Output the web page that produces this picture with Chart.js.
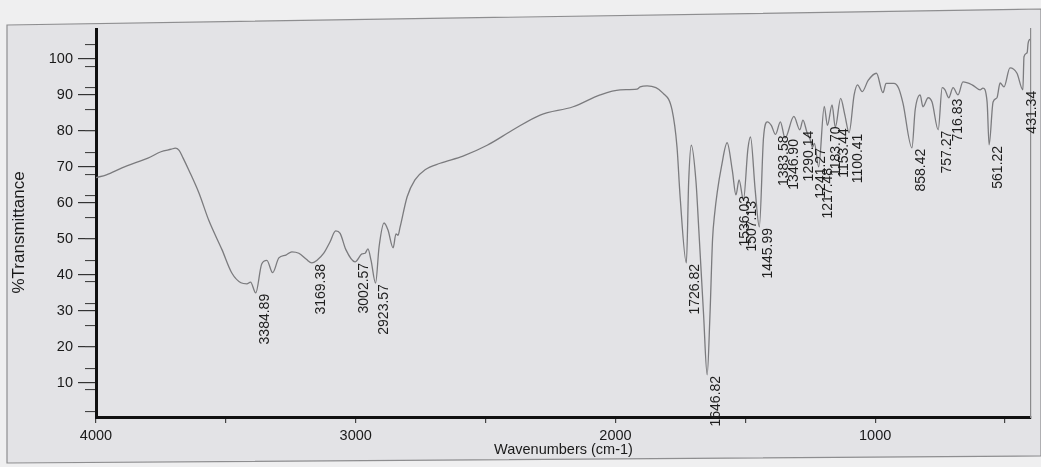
<!DOCTYPE html>
<html>
<head>
<meta charset="utf-8">
<title>FTIR spectrum</title>
<script src="https://cdn.jsdelivr.net/npm/chart.js@4.4.1/dist/chart.umd.min.js"></script>
<style>
  html, body { margin: 0; padding: 0; background: #efeff0; }
  #wrap { position: relative; width: 1041px; height: 467px; overflow: hidden; }
  #paper, #spectrum { position: absolute; left: 0; top: 0; }
</style>
</head>
<body>
<div id="wrap">
  <!-- printed page frame behind the plot -->
  <svg id="paper" width="1041" height="467">
    <polygon points="7,25 1041,9 1041,456 7,463" fill="#e3e3e6" stroke="#8e8e90" stroke-width="1.2"/>
  </svg>
  <canvas id="spectrum" width="1041" height="467"></canvas>
</div>
<script>
// Spectrum trace, high to low wavenumber (cm-1) with %T at each point
const wavenumbers = [
  4000, 3960, 3900, 3850, 3800, 3750, 3710, 3695, 3680, 3665,
  3642, 3604, 3565, 3515, 3477, 3442, 3419, 3405, 3384.89, 3362,
  3342, 3320, 3296, 3269, 3246, 3219, 3190, 3169.38, 3150, 3123,
  3100, 3077, 3060, 3038, 3002.57, 2976, 2964, 2953, 2941, 2923.57,
  2910, 2891, 2876, 2856, 2845, 2837, 2829, 2802, 2772, 2733,
  2675, 2587, 2494, 2394, 2290, 2163, 2059, 1982, 1917, 1905,
  1878, 1817, 1782, 1763, 1751, 1726.82, 1718, 1708, 1690, 1679,
  1661, 1646.82, 1636, 1626, 1618, 1608, 1592, 1570, 1550, 1536.03,
  1524, 1507.13, 1490, 1480, 1462, 1445.99, 1430, 1415, 1400, 1383.58,
  1365, 1346.90, 1313, 1290.14, 1278, 1263, 1250, 1241.27, 1234, 1217.48,
  1196, 1183.70, 1166, 1153.44, 1133, 1117, 1100.41, 1081, 1068, 1050,
  1027, 995, 970, 958, 928, 910, 893, 858.42, 846, 827,
  816, 796, 781, 757.27, 742, 731, 716.83, 700, 681, 662,
  627, 596, 585, 569, 561.22, 546, 531, 519, 504, 481,
  454, 431.34, 427, 415, 411, 405
];
const transmittance = [
  67.0, 67.8, 69.7, 71.1, 72.4, 74.2, 74.9, 75.2, 74.6, 72.5,
  69.0, 62.8, 55.0, 47.0, 40.5, 37.8, 37.5, 38.0, 35.0, 43.0,
  44.0, 40.6, 44.7, 45.5, 46.4, 46.0, 44.3, 43.3, 44.0, 46.0,
  49.0, 52.2, 51.5, 47.0, 43.6, 45.8, 46.0, 47.2, 44.0, 37.7,
  47.8, 54.4, 52.5, 47.5, 51.4, 51.0, 53.3, 61.7, 66.4, 69.2,
  71.0, 73.0, 76.0, 80.3, 84.4, 86.7, 90.0, 91.4, 91.6, 92.2,
  92.5, 90.5, 85.8, 75.5, 61.7, 43.3, 66.0, 76.0, 66.0, 52.5,
  29.4, 12.2, 29.0, 50.0, 57.0, 63.0, 70.0, 76.7, 69.0, 62.2,
  66.4, 60.8, 75.0, 78.3, 63.6, 53.3, 78.0, 82.5, 81.5, 79.0,
  82.5, 78.0, 84.0, 80.3, 83.0, 79.7, 77.5, 75.5, 76.5, 70.0,
  86.8, 81.5, 87.2, 81.0, 89.0, 84.5, 79.5, 90.0, 92.8, 90.9,
  94.0, 96.0, 90.6, 93.2, 93.2, 91.9, 87.7, 75.3, 85.8, 90.0,
  86.7, 89.2, 88.0, 80.3, 92.0, 91.4, 89.2, 92.0, 90.0, 93.6,
  92.8, 91.4, 91.9, 88.0, 76.1, 88.0, 89.2, 93.3, 92.2, 97.5,
  96.0, 91.4, 100.6, 101.7, 104.4, 105.5
];

// Peaks picked by the instrument software (labelled under each dip)
const peakPositions = [
  3384.89, 3169.38, 3002.57, 2923.57, 1726.82, 1646.82, 1536.03, 1507.13,
  1445.99, 1383.58, 1346.90, 1290.14, 1241.27, 1217.48, 1183.70, 1153.44,
  1100.41, 858.42, 757.27, 716.83, 561.22, 431.34
];

// x ticks every 500, only the thousands carry a label
const xTickValues = [4000, 3500, 3000, 2500, 2000, 1500, 1000, 500];
const xTickLabels = [4000, 3000, 2000, 1000];
const yTickLabels = [10, 20, 30, 40, 50, 60, 70, 80, 90, 100];

const X_MIN = 400, X_MAX = 4000;
const Y_MIN = 0.5, Y_MAX = 108.3;

const plainFont = '"Liberation Sans", Arial, sans-serif';

// Draw the peak wavenumbers rotated, hanging below each dip
const peakLabels = {
  id: 'peakLabels',
  afterDraw(chart) {
    const { ctx, scales: { x, y } } = chart;
    ctx.save();
    ctx.font = '14px ' + plainFont;
    ctx.fillStyle = '#1e1e1e';
    ctx.textAlign = 'right';
    ctx.textBaseline = 'middle';
    peakPositions.forEach(w => {
      const i = wavenumbers.indexOf(w);
      if (i < 0) return;
      const px = x.getPixelForValue(w);
      const py = y.getPixelForValue(transmittance[i]);
      ctx.save();
      ctx.translate(px + 9, py + 1);
      ctx.rotate(-Math.PI / 2);
      ctx.fillText(w.toFixed(2), 0, 0);
      ctx.restore();
    });
    ctx.restore();
  }
};

const points = wavenumbers.map((w, i) => ({ x: w, y: transmittance[i] }));

new Chart(document.getElementById('spectrum'), {
  type: 'line',
  data: {
    datasets: [{
      data: points,
      borderColor: '#7b7b7e',
      borderWidth: 1.3,
      pointRadius: 0,
      cubicInterpolationMode: 'monotone',
      fill: false
    }]
  },
  options: {
    responsive: false,
    animation: false,
    events: [],
    layout: { padding: { top: 29, right: 10, bottom: 0, left: 0 } },
    plugins: {
      legend: { display: false },
      tooltip: { enabled: false }
    },
    scales: {
      x: {
        type: 'linear',
        reverse: true,
        min: X_MIN,
        max: X_MAX,
        afterFit: s => { s.height = 50; },
        afterBuildTicks: s => { s.ticks = xTickValues.map(v => ({ value: v })); },
        border: { color: '#111', width: 3 },
        grid: { drawOnChartArea: false, tickLength: 6, color: '#444', lineWidth: 1.2 },
        ticks: {
          autoSkip: false,
          maxRotation: 0,
          padding: 4,
          color: '#1a1a1a',
          font: { family: plainFont, size: 14.5 },
          callback: v => xTickLabels.includes(v) ? String(v) : ''
        },
        title: {
          display: true,
          text: 'Wavenumbers (cm-1)',
          color: '#1a1a1a',
          font: { family: plainFont, size: 14.5 },
          padding: { top: 0, bottom: 8 }
        }
      },
      y: {
        position: 'left',
        weight: 1,
        min: Y_MIN,
        max: Y_MAX,
        afterFit: s => { s.width = 96; },
        border: { color: '#111', width: 3 },
        grid: { drawOnChartArea: false, tickLength: 18, color: '#333', lineWidth: 1.2 },
        ticks: {
          stepSize: 10,
          includeBounds: false,
          padding: 5,
          color: '#1a1a1a',
          font: { family: plainFont, size: 14.5 },
          callback: v => yTickLabels.includes(v) ? String(v) : ''
        },
        title: {
          display: true,
          text: '%Transmittance    ',
          color: '#1a1a1a',
          font: { family: plainFont, size: 17 },
          padding: { top: 9, bottom: 0 }
        }
      },
      // minor ticks every 2 %T, shorter than the labelled ones
      yMinor: {
        position: 'left',
        weight: 0,
        min: Y_MIN,
        max: Y_MAX,
        afterFit: s => { s.width = 0; },
        border: { display: false },
        grid: { drawOnChartArea: false, tickLength: 11, color: '#444', lineWidth: 1.1 },
        ticks: { stepSize: 2, includeBounds: false, callback: () => '' }
      },
      // thin right edge of the plot box
      yFrame: {
        position: 'right',
        min: Y_MIN,
        max: Y_MAX,
        afterFit: s => { s.width = 0; },
        border: { color: '#8a8a8c', width: 1.2 },
        grid: { display: false },
        ticks: { display: false }
      }
    }
  },
  plugins: [peakLabels]
});
</script>
</body>
</html>
